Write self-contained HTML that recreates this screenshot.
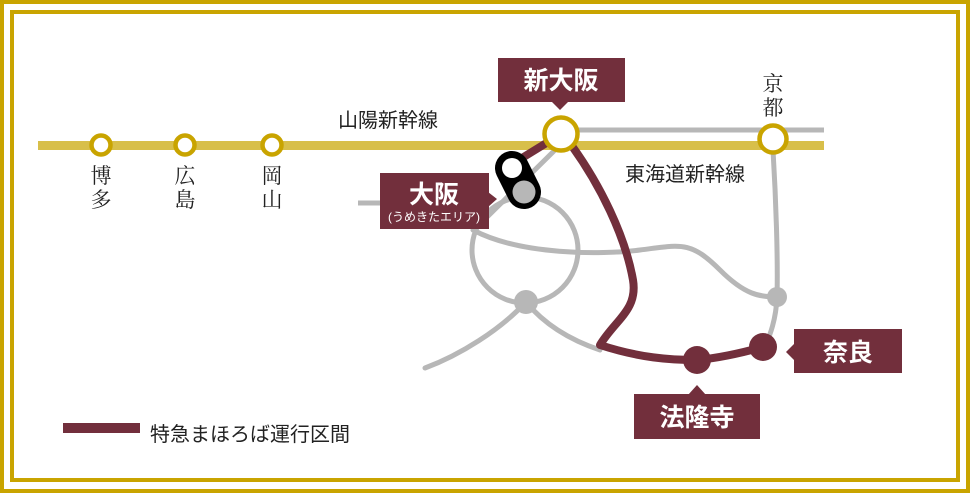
<!DOCTYPE html>
<html><head><meta charset="utf-8"><style>
html,body{margin:0;padding:0;background:#fff;}
svg{display:block;}
text{font-family:"Liberation Sans","Noto Sans CJK JP",sans-serif;}
.serif{font-family:"Liberation Serif","Noto Serif CJK SC",serif;}
</style></head><body>
<svg width="970" height="493" viewBox="0 0 970 493" xmlns="http://www.w3.org/2000/svg">
<rect x="0" y="0" width="970" height="493" fill="#fff"/>
<rect x="2" y="2" width="966" height="489" fill="none" stroke="#c9a400" stroke-width="4"/>
<rect x="12" y="12" width="946" height="468" fill="none" stroke="#c9a400" stroke-width="4"/>

<g fill="none" stroke="#b7b7b7" stroke-width="5" stroke-linecap="round">
<line x1="578" y1="130" x2="824" y2="130" stroke-linecap="butt"/>
<line x1="358" y1="203" x2="490" y2="203" stroke-linecap="butt"/>
<line x1="555" y1="150" x2="478" y2="226"/>
<circle cx="525" cy="250" r="53"/>
<path d="M473 230 C 520 255, 600 255, 640 250 C 680 245, 690 240, 720 270 C 745 295, 760 297, 777 297"/>
<path d="M773 150 C 776 200, 778 260, 777 297 C 776 320, 770 335, 765 347"/>
<path d="M526 302 C 500 330, 460 355, 425 368"/>
<path d="M526 302 C 545 325, 570 340, 600 350"/>
</g>
<circle cx="526" cy="302" r="12" fill="#b7b7b7"/>
<circle cx="777" cy="297" r="10" fill="#b7b7b7"/>

<rect x="38" y="141" width="786" height="9" fill="#d8bf4a"/>

<g fill="none" stroke="#722f3c" stroke-width="8" stroke-linecap="round" stroke-linejoin="round">
<path d="M548 142 L522 158"/>
<path d="M572 146 C 600 185, 625 235, 633 280 C 638 310, 615 320, 600 345 C 640 358, 670 360, 697 360 C 720 358, 745 352, 763 347"/>
</g>
<circle cx="697" cy="360" r="14" fill="#722f3c"/>
<circle cx="763" cy="347" r="14" fill="#722f3c"/>

<g fill="#fff" stroke="#c9a400" stroke-width="4.5">
<circle cx="101" cy="145" r="9.5"/>
<circle cx="185" cy="145" r="9.5"/>
<circle cx="272" cy="145" r="9.5"/>
<circle cx="561" cy="134" r="16.5"/>
<circle cx="773" cy="139" r="13.5"/>
</g>

<line x1="512" y1="168" x2="524" y2="192" stroke="#000" stroke-width="34" stroke-linecap="round"/>
<circle cx="512" cy="168" r="10" fill="#fff"/>
<circle cx="524" cy="192" r="11.5" fill="#b7b7b7"/>

<g fill="#722f3c">
<rect x="498" y="58" width="127" height="44"/>
<polygon points="551,101 569,101 560,110"/>
<rect x="380" y="173" width="109" height="56"/>
<polygon points="488,192 488,207 497,199"/>
<rect x="794" y="329" width="108" height="44"/>
<polygon points="795,343 795,361 786,352"/>
<rect x="634" y="394" width="126" height="45"/>
<polygon points="688,395 706,395 697,385"/>
<rect x="63" y="423" width="77" height="10"/>
</g>
<g fill="#fff" font-weight="bold" text-anchor="middle">
<text x="561" y="89" font-size="25">新大阪</text>
<text x="434" y="203" font-size="25">大阪</text>
<text x="434" y="221" font-size="12" font-weight="normal">(うめきたエリア)</text>
<text x="848" y="361" font-size="25">奈良</text>
<text x="697" y="426" font-size="25">法隆寺</text>
</g>

<g fill="#222" font-size="20">
<text x="338" y="127">山陽新幹線</text>
<text x="625" y="181">東海道新幹線</text>
<text x="150" y="441">特急まほろば運行区間</text>
</g>
<g fill="#222" font-size="21" text-anchor="middle">
<text class="serif" x="101" y="183">博</text><text class="serif" x="101" y="207">多</text>
<text class="serif" x="185" y="183">広</text><text class="serif" x="185" y="207">島</text>
<text class="serif" x="272" y="183">岡</text><text class="serif" x="272" y="207">山</text>
<text class="serif" x="773" y="91">京</text><text class="serif" x="773" y="115">都</text>
</g>
</svg>
</body></html>
